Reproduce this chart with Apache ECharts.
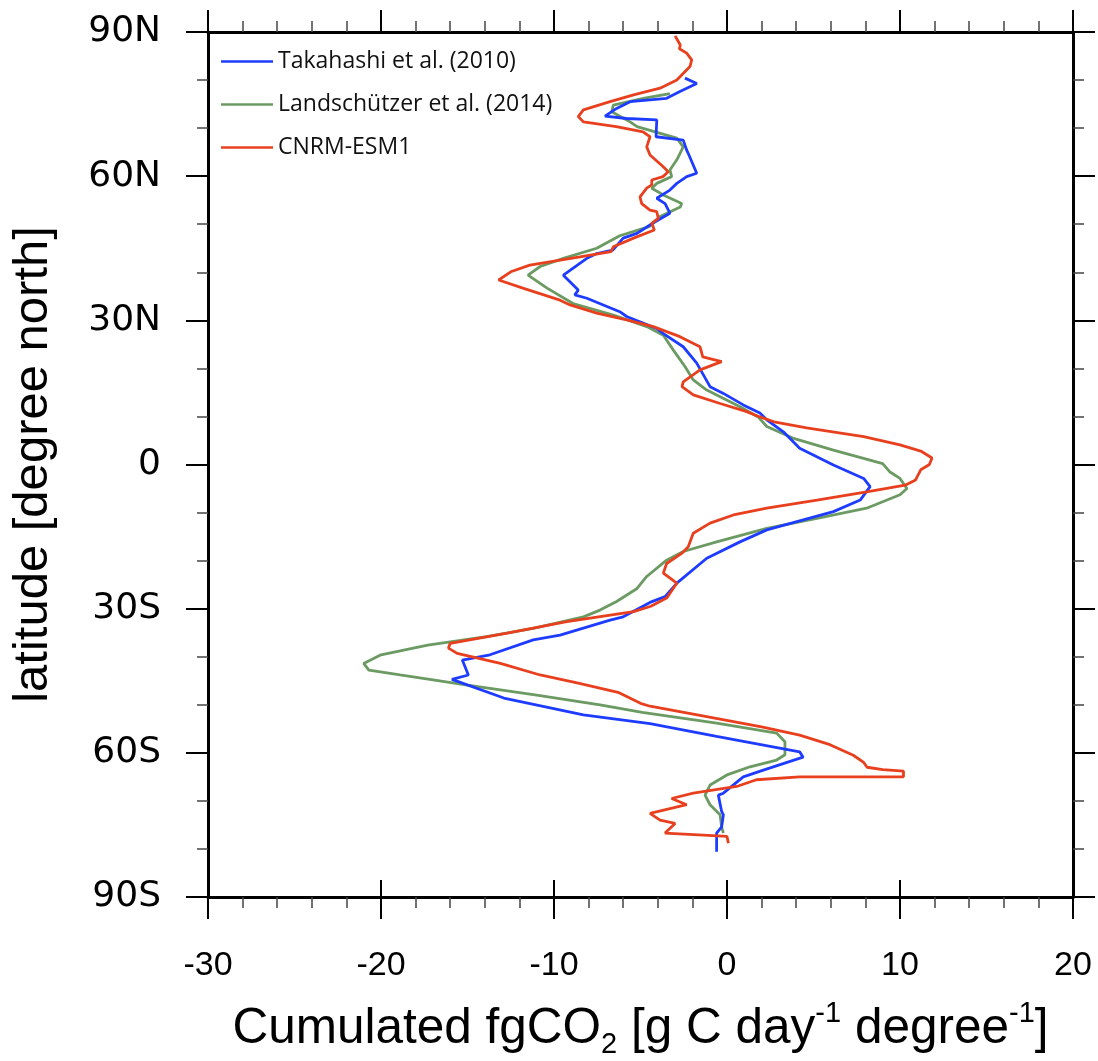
<!DOCTYPE html>
<html>
<head>
<meta charset="utf-8">
<script src="https://cdn.jsdelivr.net/npm/echarts@6/dist/echarts.min.js"></script>
<style>
html,body{margin:0;padding:0;background:#fff;}
#chart{width:1098px;height:1061px;}
</style>
</head>
<body>
<div id="chart"></div>
<script>
// ---- data (latitude in degrees, value in g C day-1 degree-1) ----
const seriesNames = ['Takahashi et al. (2010)', 'Landschützer et al. (2014)', 'CNRM-ESM1'];
const yTickValues = [-90, -60, -30, 0, 30, 60, 90];
const yTickLabels = ['90S', '60S', '30S', '0', '30N', '60N', '90N'];
const xTickValues = [-30, -20, -10, 0, 10, 20];

const takahashiLat = [80.4,79.3,77.6,76.2,75.5,74.1,72.5,72.0,71.7,68.2,67.5,65.4,64.4,60.6,59.9,58.5,57.1,55.4,54.3,52.3,50.2,48.1,47.1,44.6,43.9,42.9,39.4,36.3,35.3,34.6,31.8,30.8,28.3,27.3,24.5,21.1,16.2,14.8,12.4,10.7,9.3,6.8,3.4,-0.1,-2.9,-4.6,-7.4,-9.8,-13.6,-16.1,-19.5,-24.7,-27.5,-28.7,-31.7,-32.4,-35.5,-36.5,-39.6,-40.7,-43.8,-44.7,-48.6,-52.1,-53.9,-56.6,-59.8,-60.9,-63.6,-65.0,-68.4,-68.8,-72.2,-72.9,-75.4,-76.7,-80.6];
const takahashiVal = [-2.43,-1.75,-2.72,-3.49,-5.6,-6.38,-7.05,-5.8,-4.06,-4.1,-2.53,-2.33,-2.2,-1.75,-2.33,-2.9,-3.3,-4.06,-3.58,-3.3,-4.3,-5.2,-6.0,-6.6,-7.53,-8.1,-9.46,-8.6,-8.8,-8.1,-6.2,-5.8,-4.06,-3.7,-2.53,-1.75,-0.98,-0.21,0.94,1.9,2.3,3.26,4.2,6.15,7.9,8.27,7.7,6.15,2.3,0.75,-1.17,-2.9,-3.58,-4.45,-6.0,-6.76,-9.65,-11.2,-13.7,-15.3,-14.95,-15.9,-12.9,-8.3,-4.45,-0.6,4.2,4.4,2.1,0.94,-0.21,-0.5,-0.31,-0.21,-0.31,-0.6,-0.6];

const landLat = [77.2,76.2,74.8,73.4,71.3,70.3,67.9,66.1,63.4,61.3,59.9,58.5,57.5,56.1,54.3,53.6,51.6,49.5,47.6,45.0,42.9,41.2,39.4,36.7,33.5,31.1,28.7,26.9,23.8,20.4,17.6,15.5,12.0,9.9,7.9,5.5,3.0,0.2,-1.5,-2.9,-5.0,-6.3,-9.1,-11.2,-13.3,-16.1,-18.1,-19.9,-23.3,-25.8,-28.5,-30.3,-31.7,-34.1,-35.8,-37.6,-39.6,-41.4,-42.8,-43.8,-45.9,-48.0,-50.0,-51.6,-53.8,-55.9,-57.7,-60.4,-61.5,-62.9,-64.6,-66.7,-68.8,-70.8,-72.9,-75.4,-76.7];
const landVal = [-3.3,-4.84,-6.57,-6.66,-5.6,-5.2,-2.9,-2.53,-2.9,-3.3,-3.2,-4.06,-4.35,-3.68,-2.62,-2.7,-3.87,-4.5,-6.2,-7.53,-9.46,-10.8,-11.5,-10.4,-8.9,-6.57,-4.64,-3.68,-3.1,-2.43,-1.95,-1.17,0.75,1.8,2.3,3.8,6.15,9.0,9.4,10.0,10.4,10.0,8.07,5.2,2.3,-0.6,-2.53,-3.49,-4.64,-5.2,-6.38,-7.34,-8.3,-11.2,-13.9,-17.3,-20.0,-21.0,-20.7,-18.9,-15.0,-11.0,-7.34,-4.9,-0.6,2.87,3.35,3.35,2.87,1.33,0.0,-0.98,-1.27,-0.98,-0.4,-0.31,-0.21];

const cnrmLat = [89.2,87.3,86.5,85.6,84.2,82.8,80.0,78.3,76.9,75.5,73.8,72.4,71.3,70.3,69.2,68.2,66.1,64.4,62.0,60.9,59.9,59.2,58.2,57.5,55.7,54.3,52.95,52.6,51.2,50.2,48.8,48.4,47.1,45.3,44.3,43.2,41.5,40.1,38.4,36.7,34.2,33.2,31.5,30.1,28.7,26.6,24.5,22.4,21.4,19.7,17.2,16.2,14.5,12.7,11.0,9.9,8.8,7.6,5.8,4.1,2.8,1.35,0,-1.1,-3.2,-4.3,-5.7,-7.4,-9.1,-10.5,-12.2,-14.3,-17.1,-18.5,-20.6,-22.6,-24.7,-27.8,-29.5,-30.6,-32.7,-35.1,-37.2,-38.2,-39.3,-41.4,-43.8,-45.5,-47.4,-49.7,-50.3,-52.2,-54.6,-56.3,-58.3,-60.5,-62.0,-63.0,-63.5,-63.8,-65.0,-65.0,-65.6,-67.0,-68.4,-69.5,-70.8,-72.6,-74.0,-74.7,-76.7,-77.4,-78.8];
const cnrmVal = [-3.0,-2.7,-2.75,-2.33,-2.04,-2.14,-2.9,-3.87,-5.4,-6.76,-8.3,-8.6,-8.3,-6.4,-4.85,-4.45,-4.64,-4.45,-3.7,-3.4,-3.7,-4.35,-4.35,-4.64,-5.03,-4.93,-4.45,-4.06,-3.97,-4.35,-4.2,-4.16,-5.4,-6.57,-6.7,-8.5,-11.4,-12.5,-13.2,-11.8,-9.65,-9.07,-7.53,-5.8,-4.26,-2.72,-1.56,-1.4,-0.31,-1.56,-2.53,-2.6,-1.95,-0.4,1.14,1.9,2.8,4.6,7.9,10.0,11.2,11.85,11.7,11.2,10.9,10.3,8.07,5.2,2.3,0.37,-0.98,-1.95,-2.24,-2.62,-3.49,-3.68,-2.9,-3.49,-4.4,-5.4,-9.26,-12.7,-16.0,-16.1,-15.6,-13.1,-10.8,-8.6,-6.3,-5.0,-4.45,-1.56,2.0,4.2,5.95,7.3,7.9,8.1,9.0,10.2,10.2,4.2,1.7,0.56,-1.95,-3.2,-2.33,-4.45,-3.87,-3.0,-3.58,0.0,0.08];

const colors = ['#1e3cff', '#6b9a62', '#e8401e'];

function pairs(vals, lats) { return vals.map((v, i) => [v, lats[i]]); }

const chart = echarts.init(document.getElementById('chart'), null, {renderer: 'canvas'});

const frameLine = {show: true, onZero: false, lineStyle: {color: '#000', width: 3}};
const majorTickOut = {show: true, inside: false, length: 22, lineStyle: {color: '#000', width: 2}};
const minorTickOut = {show: true, length: 11, lineStyle: {color: '#444', width: 1.5}};

const xCommon = {type: 'value', min: -30, max: 20, interval: 10, splitLine: {show: false}};
const yCommon = {type: 'value', min: -90, max: 90, interval: 30, splitLine: {show: false}};
const gridBox = {left: 208, right: 25, top: 32, bottom: 164, containLabel: false, outerBoundsMode: 'none'};

const option = {
  animation: false,
  backgroundColor: '#fff',
  grid: [Object.assign({}, gridBox), Object.assign({}, gridBox)],
  legend: {
    data: seriesNames,
    orient: 'vertical',
    left: 216, top: 44,
    icon: 'rect', itemWidth: 52, itemHeight: 2.5,
    itemGap: 18,
    textStyle: {fontFamily: 'Open Sans', fontSize: 23, color: '#111', lineHeight: 25}
  },
  xAxis: [
    Object.assign({}, xCommon, {
      gridIndex: 0,
      position: 'bottom',
      axisLine: frameLine,
      axisTick: majorTickOut,
      minorTick: Object.assign({splitNumber: 5}, minorTickOut),
      axisLabel: {
        margin: 52, fontFamily: 'Liberation Sans', fontSize: 34, color: '#000',
        formatter: v => (xTickValues.indexOf(v) >= 0 ? String(v) : '')
      },
      name: 'Cumulated fgCO{sub|2} [g C day{sup|-1} degree{sup|-1}]',
      nameLocation: 'middle', nameGap: 102,
      nameTextStyle: {
        fontFamily: 'Liberation Sans', fontSize: 49.5, color: '#000', lineHeight: 60,
        verticalAlign: 'top',
        rich: {
          sub: {fontFamily: 'Liberation Sans', fontSize: 29, color: '#000', verticalAlign: 'bottom', lineHeight: 60},
          sup: {fontFamily: 'Liberation Sans', fontSize: 29, color: '#000', verticalAlign: 'top', lineHeight: 60, padding: [0, 0, 12, 0]}
        }
      }
    }),
    Object.assign({}, xCommon, {
      gridIndex: 0,
      position: 'top',
      axisLine: frameLine,
      axisTick: majorTickOut,
      minorTick: Object.assign({splitNumber: 5}, minorTickOut),
      axisLabel: {show: false}
    }),
    Object.assign({}, xCommon, {
      gridIndex: 1,
      position: 'bottom',
      axisLine: {show: true, onZero: false, lineStyle: {color: '#000', width: 1}},
      axisTick: {show: true, inside: true, length: 17, lineStyle: {color: '#000', width: 2}},
      minorTick: {show: false},
      axisLabel: {show: false}
    })
  ],
  yAxis: [
    Object.assign({}, yCommon, {
      gridIndex: 0,
      position: 'left',
      axisLine: frameLine,
      axisTick: majorTickOut,
      minorTick: Object.assign({splitNumber: 3}, minorTickOut),
      axisLabel: {
        margin: 47, fontFamily: 'DejaVu Sans', fontSize: 36, color: '#000',
        formatter: v => { const i = yTickValues.indexOf(v); return i >= 0 ? yTickLabels[i] : ''; }
      },
      name: 'latitude [degree north]',
      nameLocation: 'middle', nameRotate: 90, nameGap: 150,
      nameTextStyle: {fontFamily: 'Liberation Sans', fontSize: 49, color: '#000'}
    }),
    Object.assign({}, yCommon, {
      gridIndex: 0,
      position: 'right',
      axisLine: frameLine,
      axisTick: majorTickOut,
      minorTick: Object.assign({splitNumber: 3}, minorTickOut),
      axisLabel: {show: false}
    }),
    Object.assign({}, yCommon, {
      gridIndex: 1,
      position: 'left',
      axisLine: {show: false, onZero: false},
      axisTick: {show: false},
      minorTick: {show: false},
      axisLabel: {show: false}
    })
  ],
  series: [
    {name: seriesNames[0], type: 'line', xAxisIndex: 0, yAxisIndex: 0, data: pairs(takahashiVal, takahashiLat), showSymbol: false, symbol: 'none',
     lineStyle: {color: colors[0], width: 2.8}, itemStyle: {color: colors[0]}, z: 3},
    {name: seriesNames[1], type: 'line', xAxisIndex: 0, yAxisIndex: 0, data: pairs(landVal, landLat), showSymbol: false, symbol: 'none',
     lineStyle: {color: colors[1], width: 2.8}, itemStyle: {color: colors[1]}, z: 2},
    {name: seriesNames[2], type: 'line', xAxisIndex: 0, yAxisIndex: 0, data: pairs(cnrmVal, cnrmLat), showSymbol: false, symbol: 'none',
     lineStyle: {color: colors[2], width: 2.8}, itemStyle: {color: colors[2]}, z: 4}
  ]
};
chart.setOption(option);
</script>
</body>
</html>
